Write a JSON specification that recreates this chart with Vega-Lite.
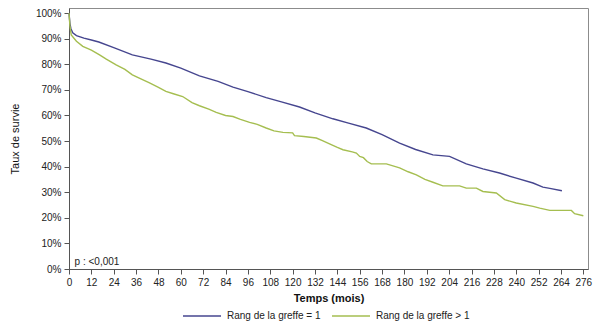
{
  "$schema": "https://vega.github.io/schema/vega-lite/v6.json",
  "width": 519,
  "height": 261,
  "autosize": {"type": "none"},
  "padding": {"left": 69, "top": 8, "right": 12, "bottom": 60},
  "background": "white",
  "config": {
    "font": "Liberation Sans",
    "view": {"stroke": "#8c8c8c", "strokeWidth": 1},
    "axis": {"labelOverlap": false}
  },
  "datasets": {
    "curves": [
      {"t": 0, "v": 100, "g": "Rang de la greffe = 1"},
      {"t": 0.5, "v": 96, "g": "Rang de la greffe = 1"},
      {"t": 1, "v": 94, "g": "Rang de la greffe = 1"},
      {"t": 2, "v": 92.3, "g": "Rang de la greffe = 1"},
      {"t": 4, "v": 91.2, "g": "Rang de la greffe = 1"},
      {"t": 8, "v": 90.2, "g": "Rang de la greffe = 1"},
      {"t": 12, "v": 89.5, "g": "Rang de la greffe = 1"},
      {"t": 16, "v": 88.7, "g": "Rang de la greffe = 1"},
      {"t": 24, "v": 86.5, "g": "Rang de la greffe = 1"},
      {"t": 34, "v": 83.7, "g": "Rang de la greffe = 1"},
      {"t": 44, "v": 82, "g": "Rang de la greffe = 1"},
      {"t": 52, "v": 80.5, "g": "Rang de la greffe = 1"},
      {"t": 60, "v": 78.5, "g": "Rang de la greffe = 1"},
      {"t": 70, "v": 75.5, "g": "Rang de la greffe = 1"},
      {"t": 80, "v": 73.3, "g": "Rang de la greffe = 1"},
      {"t": 88, "v": 71.1, "g": "Rang de la greffe = 1"},
      {"t": 96, "v": 69.3, "g": "Rang de la greffe = 1"},
      {"t": 105.8, "v": 67, "g": "Rang de la greffe = 1"},
      {"t": 114, "v": 65.3, "g": "Rang de la greffe = 1"},
      {"t": 123.7, "v": 63.3, "g": "Rang de la greffe = 1"},
      {"t": 132, "v": 61, "g": "Rang de la greffe = 1"},
      {"t": 141.6, "v": 58.7, "g": "Rang de la greffe = 1"},
      {"t": 150, "v": 57, "g": "Rang de la greffe = 1"},
      {"t": 159.5, "v": 55.1, "g": "Rang de la greffe = 1"},
      {"t": 168, "v": 52.5, "g": "Rang de la greffe = 1"},
      {"t": 177.4, "v": 49.2, "g": "Rang de la greffe = 1"},
      {"t": 186, "v": 46.7, "g": "Rang de la greffe = 1"},
      {"t": 195.3, "v": 44.6, "g": "Rang de la greffe = 1"},
      {"t": 204.2, "v": 44, "g": "Rang de la greffe = 1"},
      {"t": 213.2, "v": 41.1, "g": "Rang de la greffe = 1"},
      {"t": 222.1, "v": 39.1, "g": "Rang de la greffe = 1"},
      {"t": 231, "v": 37.5, "g": "Rang de la greffe = 1"},
      {"t": 240, "v": 35.5, "g": "Rang de la greffe = 1"},
      {"t": 249, "v": 33.6, "g": "Rang de la greffe = 1"},
      {"t": 254.3, "v": 32, "g": "Rang de la greffe = 1"},
      {"t": 258, "v": 31.5, "g": "Rang de la greffe = 1"},
      {"t": 264.5, "v": 30.6, "g": "Rang de la greffe = 1"},
      {"t": 0, "v": 100, "g": "Rang de la greffe > 1"},
      {"t": 0.5, "v": 95, "g": "Rang de la greffe > 1"},
      {"t": 1.2, "v": 91.5, "g": "Rang de la greffe > 1"},
      {"t": 4, "v": 89, "g": "Rang de la greffe > 1"},
      {"t": 7.4, "v": 87, "g": "Rang de la greffe > 1"},
      {"t": 12, "v": 85.5, "g": "Rang de la greffe > 1"},
      {"t": 16.4, "v": 83.7, "g": "Rang de la greffe > 1"},
      {"t": 20, "v": 82, "g": "Rang de la greffe > 1"},
      {"t": 25.3, "v": 79.8, "g": "Rang de la greffe > 1"},
      {"t": 30, "v": 78, "g": "Rang de la greffe > 1"},
      {"t": 34, "v": 75.9, "g": "Rang de la greffe > 1"},
      {"t": 38, "v": 74.5, "g": "Rang de la greffe > 1"},
      {"t": 43.2, "v": 72.7, "g": "Rang de la greffe > 1"},
      {"t": 48, "v": 71, "g": "Rang de la greffe > 1"},
      {"t": 52, "v": 69.4, "g": "Rang de la greffe > 1"},
      {"t": 56, "v": 68.5, "g": "Rang de la greffe > 1"},
      {"t": 61, "v": 67.4, "g": "Rang de la greffe > 1"},
      {"t": 66, "v": 65, "g": "Rang de la greffe > 1"},
      {"t": 70, "v": 63.8, "g": "Rang de la greffe > 1"},
      {"t": 75, "v": 62.5, "g": "Rang de la greffe > 1"},
      {"t": 79, "v": 61.2, "g": "Rang de la greffe > 1"},
      {"t": 84, "v": 60, "g": "Rang de la greffe > 1"},
      {"t": 88, "v": 59.6, "g": "Rang de la greffe > 1"},
      {"t": 92, "v": 58.5, "g": "Rang de la greffe > 1"},
      {"t": 96.9, "v": 57.3, "g": "Rang de la greffe > 1"},
      {"t": 101, "v": 56.5, "g": "Rang de la greffe > 1"},
      {"t": 105.8, "v": 55.1, "g": "Rang de la greffe > 1"},
      {"t": 110, "v": 54, "g": "Rang de la greffe > 1"},
      {"t": 114.8, "v": 53.4, "g": "Rang de la greffe > 1"},
      {"t": 120, "v": 53.2, "g": "Rang de la greffe > 1"},
      {"t": 121, "v": 52.1, "g": "Rang de la greffe > 1"},
      {"t": 126, "v": 51.8, "g": "Rang de la greffe > 1"},
      {"t": 132.7, "v": 51.2, "g": "Rang de la greffe > 1"},
      {"t": 136, "v": 50.2, "g": "Rang de la greffe > 1"},
      {"t": 139.8, "v": 48.9, "g": "Rang de la greffe > 1"},
      {"t": 144, "v": 47.5, "g": "Rang de la greffe > 1"},
      {"t": 147, "v": 46.6, "g": "Rang de la greffe > 1"},
      {"t": 152, "v": 45.8, "g": "Rang de la greffe > 1"},
      {"t": 154.2, "v": 45.3, "g": "Rang de la greffe > 1"},
      {"t": 156, "v": 44, "g": "Rang de la greffe > 1"},
      {"t": 158, "v": 43.5, "g": "Rang de la greffe > 1"},
      {"t": 160, "v": 42, "g": "Rang de la greffe > 1"},
      {"t": 162.2, "v": 41.1, "g": "Rang de la greffe > 1"},
      {"t": 170.3, "v": 41.1, "g": "Rang de la greffe > 1"},
      {"t": 177.4, "v": 39.5, "g": "Rang de la greffe > 1"},
      {"t": 182, "v": 38, "g": "Rang de la greffe > 1"},
      {"t": 186.4, "v": 36.8, "g": "Rang de la greffe > 1"},
      {"t": 191, "v": 35, "g": "Rang de la greffe > 1"},
      {"t": 195.3, "v": 33.9, "g": "Rang de la greffe > 1"},
      {"t": 200.6, "v": 32.5, "g": "Rang de la greffe > 1"},
      {"t": 209.6, "v": 32.5, "g": "Rang de la greffe > 1"},
      {"t": 213.2, "v": 31.6, "g": "Rang de la greffe > 1"},
      {"t": 218.6, "v": 31.6, "g": "Rang de la greffe > 1"},
      {"t": 222.1, "v": 30.3, "g": "Rang de la greffe > 1"},
      {"t": 229.3, "v": 29.7, "g": "Rang de la greffe > 1"},
      {"t": 233.8, "v": 27.1, "g": "Rang de la greffe > 1"},
      {"t": 240, "v": 25.8, "g": "Rang de la greffe > 1"},
      {"t": 249, "v": 24.5, "g": "Rang de la greffe > 1"},
      {"t": 252.6, "v": 23.8, "g": "Rang de la greffe > 1"},
      {"t": 258, "v": 22.9, "g": "Rang de la greffe > 1"},
      {"t": 269.6, "v": 22.9, "g": "Rang de la greffe > 1"},
      {"t": 271.3, "v": 21.6, "g": "Rang de la greffe > 1"},
      {"t": 276, "v": 20.8, "g": "Rang de la greffe > 1"}
    ],
    "note": [{"t": 3, "v": 2.6, "label": "p : <0,001"}]
  },
  "encoding": {
    "x": {
      "field": "t", "type": "quantitative",
      "scale": {"domain": [0, 278.5], "nice": false, "zero": false},
      "axis": {
        "values": [0,12,24,36,48,60,72,84,96,108,120,132,144,156,168,180,192,204,216,228,240,252,264,276],
        "title": "Temps (mois)", "titleFontSize": 11, "titleFontWeight": "bold", "titleColor": "#111",
        "titlePadding": 5, "labelFontSize": 10, "labelColor": "#222", "labelPadding": 3,
        "labelOverlap": false,
        "domainColor": "#555", "tickColor": "#555", "tickSize": 5, "grid": false, "labelFlush": false
      }
    },
    "y": {
      "field": "v", "type": "quantitative",
      "scale": {"domain": [0, 102], "nice": false},
      "axis": {
        "values": [0,10,20,30,40,50,60,70,80,90,100],
        "labelExpr": "datum.value + '%'",
        "labelOverlap": false,
        "title": "Taux de survie", "titleFontSize": 11, "titleFontWeight": "normal", "titleColor": "#111",
        "titlePadding": 15, "labelFontSize": 10, "labelColor": "#222", "labelPadding": 3,
        "domainColor": "#555", "tickColor": "#555", "tickSize": 5, "grid": false
      }
    }
  },
  "layer": [
    {
      "data": {"name": "curves"},
      "mark": {"type": "line", "strokeWidth": 1.4},
      "encoding": {
        "color": {
          "field": "g", "type": "nominal",
          "scale": {"domain": ["Rang de la greffe = 1", "Rang de la greffe > 1"], "range": ["#46468f", "#a5be50"]},
          "legend": {
            "title": null, "orient": "none", "direction": "horizontal",
            "legendX": 113, "legendY": 288,
            "symbolType": "stroke", "symbolSize": 1444, "symbolStrokeWidth": 1.4,
            "labelFontSize": 10, "labelColor": "#222", "labelOffset": 5, "columnPadding": 8
          }
        }
      }
    },
    {
      "data": {"name": "note"},
      "mark": {"type": "text", "align": "left", "baseline": "middle", "fontSize": 10, "color": "#222"},
      "encoding": {
        "text": {"field": "label"}
      }
    }
  ]
}
